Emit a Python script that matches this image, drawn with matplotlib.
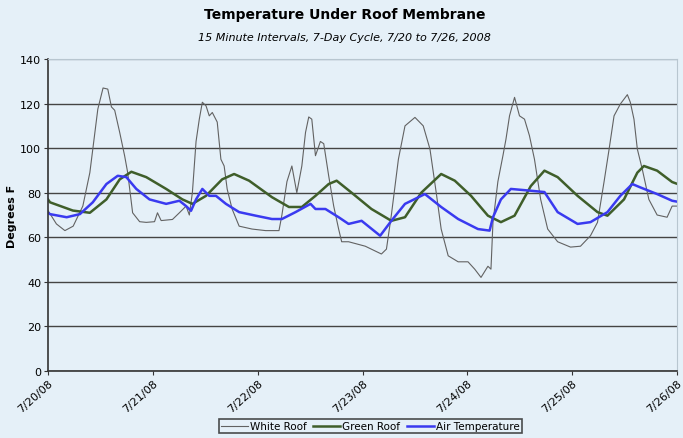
import matplotlib
matplotlib.use('Agg')
import matplotlib.pyplot as plt

plt.rcParams['font.family'] = ['Liberation Sans Narrow', 'DejaVu Sans']

# x positions in days since 7/20/08 00:00
white_x = [0, 0.08, 0.161, 0.24, 0.332, 0.399, 0.475, 0.525, 0.570, 0.605, 0.636, 0.684,
           0.731, 0.760, 0.807, 0.874, 0.937, 1.016, 1.044, 1.079, 1.187, 1.253, 1.317,
           1.348, 1.377, 1.412, 1.443, 1.472, 1.507, 1.538, 1.567, 1.614, 1.649, 1.680,
           1.709, 1.756, 1.823, 1.946, 2.076, 2.203, 2.231, 2.279, 2.326, 2.373, 2.421,
           2.456, 2.487, 2.516, 2.551, 2.598, 2.630, 2.677, 2.725, 2.772, 2.801, 2.867,
           3.026, 3.180, 3.228, 3.275, 3.342, 3.405, 3.500, 3.579, 3.643, 3.703, 3.750,
           3.817, 3.912, 4.006, 4.070, 4.130, 4.196, 4.225, 4.244, 4.291, 4.339, 4.368,
           4.402, 4.450, 4.497, 4.545, 4.592, 4.640, 4.699, 4.766, 4.861, 4.984, 5.079,
           5.174, 5.241, 5.304, 5.352, 5.399, 5.459, 5.526, 5.554, 5.589, 5.621, 5.668,
           5.731, 5.810, 5.905, 5.953, 6.0]
white_roof = [72, 66, 63, 65, 74, 89, 117.5, 127, 126.5, 118.5, 117, 107,
              96.5, 89, 71, 67, 66.7, 67, 71, 67.5, 68, 71, 74,
              70, 80, 103, 113, 120.6, 119, 114.5, 116, 111.7, 95, 92,
              81.6, 72.7, 65, 63.7, 63, 63, 70, 85, 92, 80, 92,
              107, 114, 113, 96.6, 103, 102, 87.6, 74, 63.7, 58, 58,
              56, 52.5, 54.7, 70, 95, 110, 113.8, 110, 99.6, 80, 63.7,
              51.7, 49, 49, 45.7, 42, 47, 45.7, 66.7, 85, 96.6, 104,
              114.5, 122.8, 114.5, 113, 105.6, 95, 77, 63.7, 58, 55.6, 56,
              60.7, 66.7, 85, 99.6, 114.5, 119.8, 124, 120.6, 113, 99.6, 90.6,
              77, 70, 69, 74, 74]

green_x = [0, 0.019, 0.237, 0.399, 0.557, 0.684, 0.795, 0.937, 1.127, 1.282, 1.377,
           1.507, 1.661, 1.775, 1.918, 2.136, 2.298, 2.421, 2.551, 2.677, 2.753, 2.896,
           3.085, 3.275, 3.405, 3.560, 3.750, 3.880, 4.035, 4.196, 4.320, 4.450, 4.605,
           4.735, 4.861, 5.051, 5.241, 5.336, 5.494, 5.621, 5.684, 5.810, 5.953, 6.0]
green_roof = [77, 75.7, 72, 71, 77, 86, 89.4, 87, 81.7, 77, 75,
              78.6, 86, 88.4, 85.4, 78, 73.6, 73.6, 78.6, 83.9, 85.4, 80,
              72.7, 67.4, 69, 80, 88.4, 85.4, 78.6, 69.7, 66.8, 69.7, 83,
              89.9, 87, 78.6, 71.3, 69.7, 77, 89, 92, 89.9, 84.8, 84]

air_x = [0, 0.019, 0.178, 0.304, 0.427, 0.557, 0.665, 0.747, 0.842, 0.968, 1.127,
         1.253, 1.317, 1.364, 1.412, 1.472, 1.538, 1.602, 1.697, 1.823, 1.981, 2.136,
         2.231, 2.361, 2.504, 2.551, 2.646, 2.772, 2.867, 2.991, 3.168, 3.275, 3.405,
         3.595, 3.750, 3.912, 4.101, 4.212, 4.244, 4.320, 4.415, 4.605, 4.735, 4.861,
         5.051, 5.174, 5.336, 5.459, 5.573, 5.649, 5.810, 5.953, 6.0]
air_temp = [71, 70.4, 69, 70.4, 75.7, 83.9, 87.6, 87, 81.7, 77, 75,
            76.4, 74, 71.9, 77, 81.7, 78.6, 78.6, 75, 71.3, 69.7, 68.2,
            68.2, 71.3, 75, 72.7, 72.7, 69, 66, 67.4, 60.7, 67.4, 75,
            79.4, 73.6, 68.2, 63.7, 63, 69, 77, 81.7, 80.9, 80.3, 71.3,
            66, 66.8, 71.3, 78.6, 83.9, 82.4, 79.4, 76.4, 76]

day_labels = ['7/20/08', '7/21/08', '7/22/08', '7/23/08', '7/24/08', '7/25/08', '7/26/08']
y_ticks = [0, 20, 40, 60, 80, 100, 120, 140]

bg = '#e5f0f8'
fig = plt.figure(figsize=(6.83, 4.39), dpi=100, facecolor=bg)
ax = fig.add_axes([0.0703, 0.1526, 0.921, 0.7107], facecolor=bg)

ax.plot(white_x, white_roof, color='#626262', lw=0.8, label='White Roof')
ax.plot(green_x, green_roof, color='#3f5e2a', lw=1.8, label='Green Roof')
ax.plot(air_x, air_temp, color='#3a3af0', lw=1.8, label='Air Temperature')

ax.set_xlim(0, 6)
ax.set_ylim(0, 140)
ax.set_yticks(y_ticks)
ax.set_xticks(range(len(day_labels)))
ax.set_xticklabels(day_labels, rotation=42, ha='right', rotation_mode='anchor', fontsize=8)
ax.tick_params(axis='y', labelsize=8, length=3, pad=2, color='#333333')
ax.tick_params(axis='x', length=3, pad=2, color='#333333')
ax.grid(axis='y', color='#444444', lw=1.0)
ax.get_ygridlines()[-1].set_color('#9aa8b2')
ax.set_axisbelow(True)

for side in ['top', 'right']:
    ax.spines[side].set_color('#b8c6d0')
    ax.spines[side].set_linewidth(0.8)
for side in ['left', 'bottom']:
    ax.spines[side].set_color('#333333')
    ax.spines[side].set_linewidth(1.2)

ax.set_ylabel('Degrees F', fontsize=8, fontweight='bold', labelpad=2)

fig.text(0.505, 0.966, 'Temperature Under Roof Membrane', ha='center', va='center',
         fontsize=10, fontweight='bold')
fig.text(0.505, 0.914, '15 Minute Intervals, 7-Day Cycle, 7/20 to 7/26, 2008', ha='center',
         va='center', fontsize=8, style='italic')

leg = fig.legend(loc='center', bbox_to_anchor=(0.542, 0.027), ncol=3, fontsize=7.5,
                 frameon=True, fancybox=False, edgecolor='#222222', facecolor=bg,
                 handlelength=2.6, handletextpad=0.2, columnspacing=0.6,
                 borderpad=0.2, borderaxespad=0)
leg.get_frame().set_linewidth(1.2)

fig.savefig('out.png', dpi=100, facecolor=bg)
